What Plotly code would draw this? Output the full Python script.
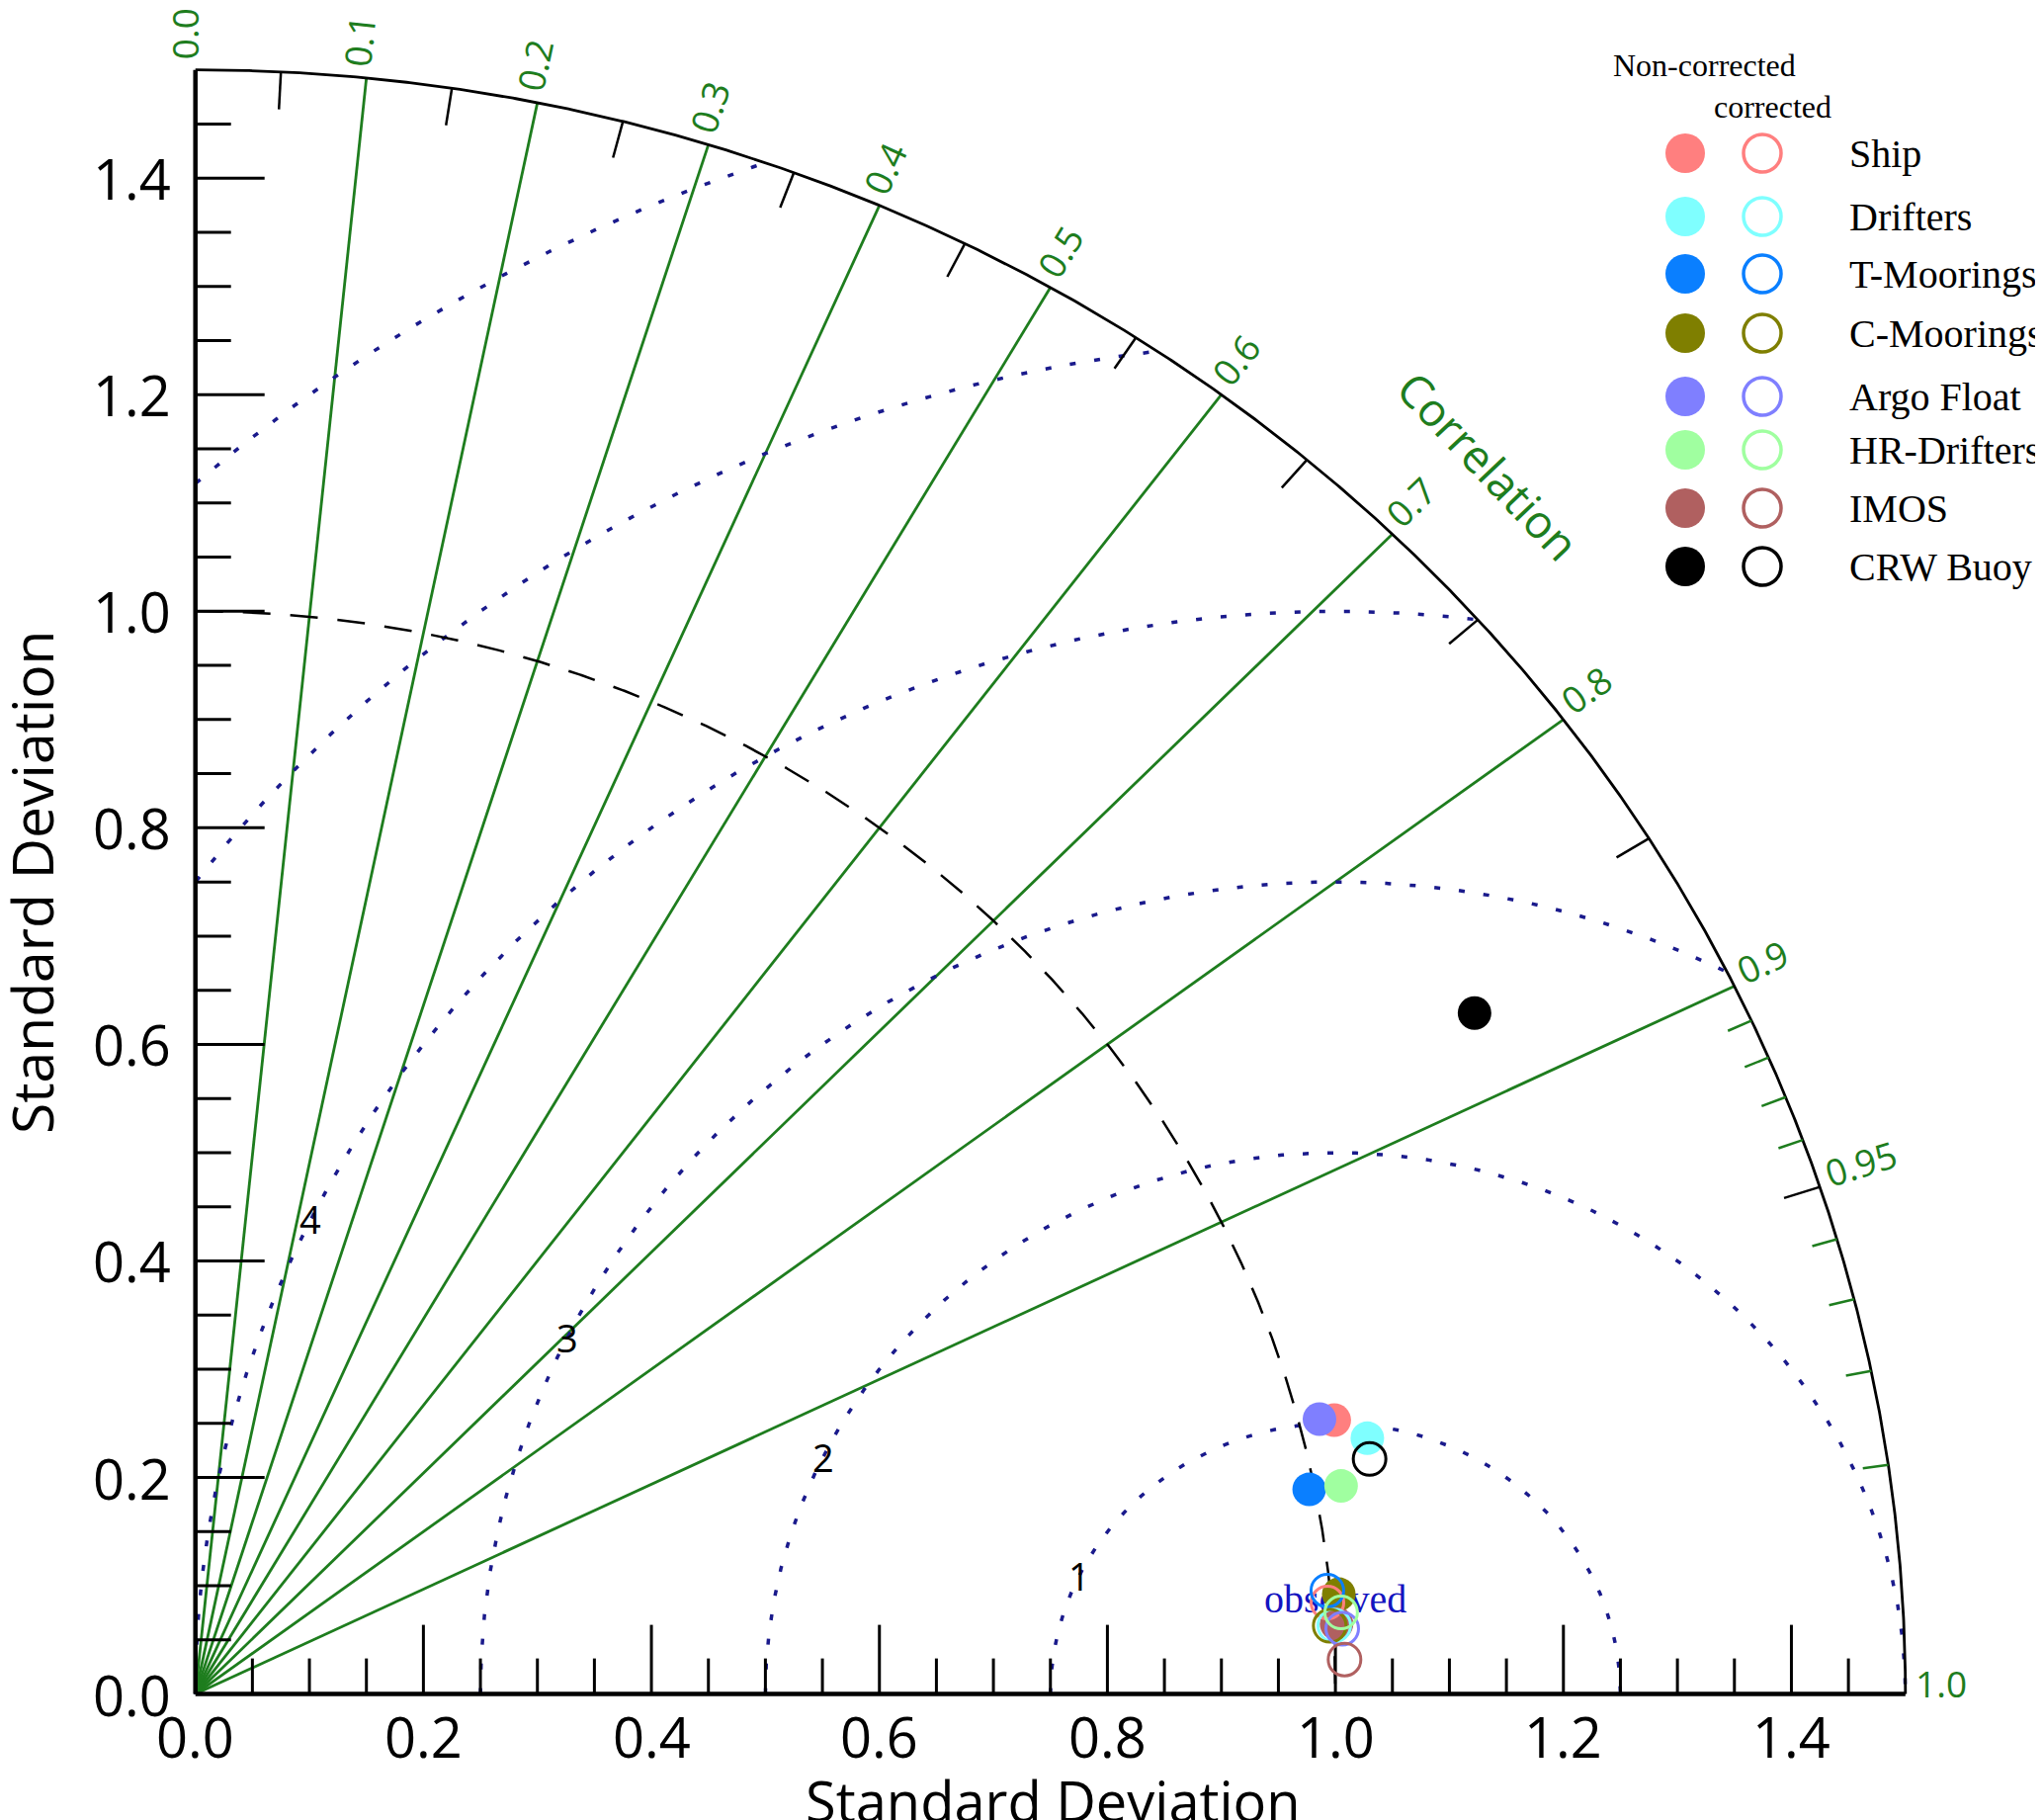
import math
import plotly.graph_objects as go

# ---------------- data ----------------
CATEGORIES = ["Ship", "Drifters", "T-Moorings", "C-Moorings",
              "Argo Float", "HR-Drifters", "IMOS", "CRW Buoy"]
COLORS = ["#FF7F7F", "#7FFFFF", "#0A7FFF", "#7F7F00",
          "#7F7FFF", "#A0FFA0", "#B06060", "#000000"]
# non-corrected (filled)
STD_NONCORR = [1.0305, 1.0548, 0.9951, 1.0072, 1.0182, 1.0232, 1.0031, 1.2863]
CORR_NONCORR = [0.9694, 0.9746, 0.9818, 0.9958, 0.9684, 0.9822, 0.9979, 0.8723]
# corrected (open)
STD_CORR = [0.9966, 1.0010, 0.9975, 0.9970, 1.0078, 1.0078, 1.0085, 1.0526]
CORR_CORR = [0.9964, 0.9980, 0.9954, 0.9980, 0.9982, 0.9972, 0.9995, 0.9785]

REF_STD = 1.0
SD_MAX = 1.5
SD_TICKS = [0.0, 0.2, 0.4, 0.6, 0.8, 1.0, 1.2, 1.4]
SD_TICK_LABELS = ["0.0", "0.2", "0.4", "0.6", "0.8", "1.0", "1.2", "1.4"]
SD_MINOR = [0.05, 0.10, 0.15, 0.20, 0.25, 0.30, 0.35, 0.40, 0.45, 0.50,
            0.55, 0.60, 0.65, 0.70, 0.75, 0.80, 0.85, 0.90, 0.95, 1.00,
            1.05, 1.10, 1.15, 1.20, 1.25, 1.30, 1.35, 1.40, 1.45]
CORR_GRID = [0.1, 0.2, 0.3, 0.4, 0.5, 0.6, 0.7, 0.8, 0.9]
CORR_TICKS = [0.0, 0.1, 0.2, 0.3, 0.4, 0.5, 0.6, 0.7, 0.8, 0.9, 0.95, 1.0]
CORR_TICK_LABELS = ["0.0", "0.1", "0.2", "0.3", "0.4", "0.5", "0.6",
                    "0.7", "0.8", "0.9", "0.95", "1.0"]
CORR_MINOR_BLACK = [0.05, 0.15, 0.25, 0.35, 0.45, 0.55, 0.65, 0.75, 0.85, 0.95]
CORR_MINOR_GREEN = [0.91, 0.92, 0.93, 0.94, 0.96, 0.97, 0.98, 0.99]
RMS_RADII = [0.25, 0.5, 0.75, 1.0, 1.25, 1.5]
RMS_LABELS = ["1", "2", "3", "4"]

# ---------------- layout geometry (page pixels) ----------------
W, H = 2067, 1841
OFF = 8                         # default page margin around the plot div
X0PX, Y0PX = 197.7, 1713.6      # origin on the page
SX, SY = 1153.4, 1095.3         # px per unit


def dx(px):
    return (px - X0PX) / SX


def dy(py):
    return (Y0PX - py) / SY


GREEN = "#1e7d1e"
NAVY = "#1a1a8c"
SANS = "Open Sans"
SERIF = "Liberation Serif"

fig = go.Figure()


def add_path(segs, **line):
    xs, ys = [], []
    for seg in segs:
        for (x, y) in seg:
            xs.append(x)
            ys.append(y)
        xs.append(None)
        ys.append(None)
    fig.add_trace(go.Scatter(x=xs, y=ys, mode="lines", line=line,
                             hoverinfo="skip", showlegend=False))


def px_per_unit(theta):
    return math.hypot(math.cos(theta) * SX, math.sin(theta) * SY)


# correlation grid lines
add_path([[(0, 0), (SD_MAX * c, SD_MAX * math.sqrt(1 - c * c))] for c in CORR_GRID],
         color=GREEN, width=2.8)

# RMS (centred) circles
segs = []
for R in RMS_RADII:
    pts = []
    for k in range(0, 3601):
        phi = math.pi * (1 - k / 3600)
        x = REF_STD + R * math.cos(phi)
        y = R * math.sin(phi)
        if x >= -1e-9 and x * x + y * y <= SD_MAX ** 2 + 1e-9:
            pts.append((x, y))
    segs.append(pts)
add_path(segs, color=NAVY, width=3.5, dash="6px,19px")

# reference std arc
arc = [(REF_STD * math.cos(math.radians(a / 10)), REF_STD * math.sin(math.radians(a / 10)))
       for a in range(900, -1, -1)]
add_path([arc], color="black", width=2.5, dash="28px,20px")

# outer arc
outer = [(SD_MAX * math.cos(math.radians(a / 10)), SD_MAX * math.sin(math.radians(a / 10)))
         for a in range(900, -1, -1)]
add_path([outer], color="black", width=2.8)

# axes lines
add_path([[(0, 0), (0, SD_MAX)], [(0, 0), (SD_MAX, 0)]], color="black", width=4.5)

# std ticks
segs = []
for v in SD_MINOR:
    major = abs(v / 0.2 - round(v / 0.2)) < 1e-6
    L = 70 if major else 36
    segs.append([(0, v), (L / SX, v)])
    segs.append([(v, 0), (v, L / SY)])
add_path(segs, color="black", width=3)


# correlation ticks on the arc
def radial_tick(c, Lpx):
    th = math.acos(c)
    L = Lpx / px_per_unit(th)
    return [(SD_MAX * math.cos(th), SD_MAX * math.sin(th)),
            ((SD_MAX - L) * math.cos(th), (SD_MAX - L) * math.sin(th))]


add_path([radial_tick(c, 38) for c in CORR_MINOR_BLACK], color="black", width=2.5)
add_path([radial_tick(c, 26) for c in CORR_MINOR_GREEN], color=GREEN, width=2.5)

# "observed" text (under markers)
fig.add_trace(go.Scatter(x=[REF_STD], y=[dy(1621)], mode="text", text=["observed"],
                         textfont=dict(family=SERIF, size=40, color="#1414c0"),
                         hoverinfo="skip", showlegend=False))

# data markers
for i, cat in enumerate(CATEGORIES):
    s, c = STD_NONCORR[i], CORR_NONCORR[i]
    fig.add_trace(go.Scatter(x=[s * c], y=[s * math.sqrt(1 - c * c)], mode="markers",
                             marker=dict(symbol="circle", size=34, color=COLORS[i],
                                         line=dict(width=0)),
                             name=cat + " (non-corrected)", showlegend=False))
for i, cat in enumerate(CATEGORIES):
    s, c = STD_CORR[i], CORR_CORR[i]
    fig.add_trace(go.Scatter(x=[s * c], y=[s * math.sqrt(1 - c * c)], mode="markers",
                             marker=dict(symbol="circle-open", size=33, color=COLORS[i],
                                         line=dict(width=3, color=COLORS[i])),
                             name=cat + " (corrected)", showlegend=False))

# legend markers
LEG_ROWS_PX = [155, 219, 277, 337, 401, 455, 514, 573]
fig.add_trace(go.Scatter(x=[dx(1705)] * len(CATEGORIES), y=[dy(p) for p in LEG_ROWS_PX],
                         mode="markers", marker=dict(size=40, color=COLORS, line=dict(width=0)),
                         hoverinfo="skip", showlegend=False, cliponaxis=False))
fig.add_trace(go.Scatter(x=[dx(1783)] * len(CATEGORIES), y=[dy(p) for p in LEG_ROWS_PX],
                         mode="markers",
                         marker=dict(symbol="circle-open", size=38, color=COLORS,
                                     line=dict(width=3.5, color=COLORS)),
                         hoverinfo="skip", showlegend=False, cliponaxis=False))

ann = []


def add_ann(x, y, text, size, color="black", family=SANS, xa="center", ya="middle",
            angle=0, xs=0, ys=0):
    ann.append(dict(x=x, y=y, xref="x", yref="y", text=text, showarrow=False,
                    font=dict(size=size, color=color, family=family),
                    xanchor=xa, yanchor=ya, textangle=angle, xshift=xs, yshift=ys))


# std tick labels
for v, t in zip(SD_TICKS, SD_TICK_LABELS):
    add_ann(dx(175), v, t, 56, xa="right")
    add_ann(v, dy(1756), t, 56)

# axis titles
add_ann(dx(1065), dy(1821), "Standard Deviation", 56)
add_ann(dx(32), dy(892), "Standard Deviation", 57, angle=-90)

# correlation labels
CFS = 37
for c, t in zip(CORR_TICKS, CORR_TICK_LABELS):
    th = math.acos(c)
    ux, uy = math.cos(th) * SX, math.sin(th) * SY
    phi = math.atan2(uy, ux)
    w = CFS * (0.572 * (len(t) - 1) + 0.267)
    d = 10 + w / 2
    p = 11
    xs = d * math.cos(phi) - p * math.sin(phi)
    ys = d * math.sin(phi) + p * math.cos(phi)
    add_ann(SD_MAX * math.cos(th), SD_MAX * math.sin(th), t, CFS, color=GREEN,
            angle=-math.degrees(phi), xs=xs, ys=ys)

# "Correlation" title along arc
th = math.radians(45)
phi = math.atan2(math.sin(th) * SY, math.cos(th) * SX)
add_ann(1.605 * math.cos(th), 1.605 * math.sin(th), "Correlation", 46, color=GREEN,
        angle=90 - math.degrees(phi))

# RMS labels
for R, t in zip(RMS_RADII, RMS_LABELS):
    a = math.radians(154)
    add_ann(REF_STD + R * math.cos(a), R * math.sin(a), t, 38)

# legend texts
add_ann(dx(1724), dy(66), "Non-corrected", 32, family=SERIF)
add_ann(dx(1793), dy(108), "corrected", 32, family=SERIF)
for cat, p in zip(CATEGORIES, LEG_ROWS_PX):
    add_ann(dx(1869), dy(p), cat, 40, family=SERIF, xa="left")

fig.update_layout(
    width=W - OFF, height=H - OFF,
    margin=dict(l=0, r=0, t=0, b=0, pad=0),
    paper_bgcolor="white", plot_bgcolor="white",
    xaxis=dict(range=[dx(OFF), dx(W)], visible=False, fixedrange=True),
    yaxis=dict(range=[dy(H), dy(OFF)], visible=False, fixedrange=True),
    annotations=ann,
    showlegend=False,
)

fig.write_html("out.html")
